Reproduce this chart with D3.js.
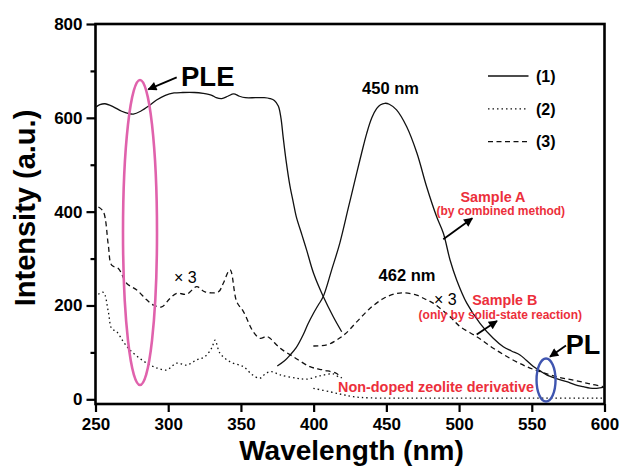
<!DOCTYPE html>
<html>
<head>
<meta charset="utf-8">
<script src="https://cdn.jsdelivr.net/npm/d3@7"></script>
<style>
  body { margin: 0; background: #fff; }
  svg text { font-family: Arial, "Liberation Sans", sans-serif; }
</style>
</head>
<body>
<div id="chart"></div>
<script>
// excitation (PLE) and emission (PL) spectra, wavelength in nm / intensity in a.u.
var ple1W = [250, 253, 256.5, 262, 268, 273, 276, 281, 287, 292, 298, 304, 310, 318, 324, 330, 333, 336.8, 341, 345, 349, 353, 360, 366, 370, 373, 375.7, 377.5, 379, 381, 383.7, 386, 388, 392, 395.2, 400, 406.6, 413.5, 419.3];
var ple1V = [622, 628, 630, 624, 614, 609, 608, 614, 626, 638, 648, 653, 654, 654, 652, 648, 643, 641, 646, 651, 646, 643, 643, 643, 641, 637, 625, 600, 560, 510, 455, 420, 390, 350, 318, 268, 219, 176, 144];

var pl1W = [375, 380, 384, 388, 392.9, 396, 399.8, 403, 406.6, 412.4, 418, 424, 429.6, 433, 436.5, 440, 443.4, 446, 449, 452, 457, 464, 471, 477.7, 484.6, 489.2, 493.8, 498.4, 505.3, 514.4, 523.5, 530.4, 536, 541.9, 546, 551.1, 556, 560.2, 567, 574, 580, 585.4, 590, 594.6, 600];
var pl1V = [71, 82, 95, 110, 138, 160, 183, 200, 219, 276, 333, 410, 482, 525, 567, 600, 620, 628, 631, 629, 617, 581, 525, 453, 389, 354, 297, 254, 205, 162, 130, 112, 103, 94.5, 84, 70, 60, 52, 44, 37.5, 31, 27, 24, 23.5, 26];

var ple2W = [251.9, 255.4, 258.8, 261.1, 264.6, 269.1, 273.7, 280.6, 287.5, 293, 299, 305.8, 312.7, 319.6, 325.3, 330, 332.2, 335.6, 342.5, 351.7, 358, 363.1, 367, 371.1, 377, 388.3, 395.2, 404.4, 413.5, 418.1];
var ple2V = [224, 228, 187, 151, 144, 123, 105, 87, 73, 66, 62.5, 77, 73, 84, 91, 110, 126, 98, 80, 69.5, 52, 45, 55, 59, 52, 45, 43, 50, 54, 45];

var pl2W = [399.8, 411.3, 420, 427.3, 438.8, 470, 500, 550, 600];
var pl2V = [23.5, 16, 10, 5.6, 3, 2.5, 2.5, 2.5, 2.5];

var ple3W = [252, 255.4, 258.8, 261.1, 265.7, 271.5, 278.4, 285.2, 289.8, 295.5, 301.2, 305.8, 312.7, 319.6, 325.3, 334.5, 337.8, 342.5, 347.1, 351.7, 358.5, 363.1, 367.7, 370, 376.9, 386, 397.5, 406.6, 415.8, 419.3];
var ple3V = [410, 400, 329, 286, 279, 247, 233, 212, 201, 197, 215, 226, 224, 240, 229, 229, 247, 276, 208, 187, 144, 130, 134, 130, 109, 91, 69.5, 62.5, 55, 45];

var pl3W = [399.8, 409, 415.9, 421.6, 429.6, 438.8, 448, 455, 461.6, 470.8, 477.7, 482.2, 493.8, 500.7, 512.2, 523.5, 535, 546.5, 555.7, 567.1, 578.5, 590, 599.2];
var pl3V = [113.6, 115.8, 126.4, 139, 165, 194, 215, 224, 227, 222, 212, 205, 176, 155, 133.5, 109, 87.4, 69.5, 59, 48, 41, 33, 27];

var xTicks = [250, 300, 350, 400, 450, 500, 550, 600];
var yTicks = [0, 200, 400, 600, 800];
var yMinor = [100, 300, 500, 700];
var legendLabels = ["(1)", "(2)", "(3)"];

var width = 624, height = 467;
var red = "#ec2f3b";

var svg = d3.select("#chart").append("svg")
    .attr("width", width)
    .attr("height", height);

var x = d3.scaleLinear().domain([250, 600]).range([95.5, 604.5]);
var y = d3.scaleLinear().domain([-10, 800]).range([404, 24]);

var defs = svg.append("defs");
defs.append("marker")
    .attr("id", "head")
    .attr("markerUnits", "userSpaceOnUse")
    .attr("viewBox", "0 0 10 10")
    .attr("refX", 9).attr("refY", 5)
    .attr("markerWidth", 11).attr("markerHeight", 9)
    .attr("orient", "auto")
  .append("path")
    .attr("d", "M0,0L10,5L0,10z")
    .attr("fill", "#000");

// axes
svg.append("g")
    .attr("transform", "translate(95.5,0)")
    .call(d3.axisLeft(y).tickValues(yTicks).tickSize(9).tickPadding(4));
svg.append("g")
    .attr("transform", "translate(95.5,0)")
    .call(d3.axisLeft(y).tickValues(yMinor).tickSize(5).tickFormat(""));
svg.append("g")
    .attr("transform", "translate(0,404)")
    .call(d3.axisBottom(x).tickValues(xTicks).tickSize(8).tickPadding(6));

svg.selectAll(".domain").remove();
svg.selectAll(".tick line").attr("stroke", "#000").attr("stroke-width", 2.2);
svg.selectAll(".tick text")
    .attr("fill", "#000")
    .style("font-size", "17px")
    .style("font-weight", "bold");

svg.append("rect")
    .attr("x", x(250)).attr("y", y(800))
    .attr("width", x(600) - x(250)).attr("height", 404 - y(800))
    .attr("fill", "none")
    .attr("stroke", "#000")
    .attr("stroke-width", 2.6);

// axis titles
svg.append("text")
    .attr("transform", "translate(35,208) rotate(-90)")
    .attr("text-anchor", "middle")
    .style("font-size", "29px").style("font-weight", "bold")
    .text("Intensity (a.u.)");
svg.append("text")
    .attr("x", 351.5).attr("y", 460)
    .attr("text-anchor", "middle")
    .style("font-size", "28px").style("font-weight", "bold")
    .text("Wavelength (nm)");

// curves
var line = d3.line()
    .x(d => x(d[0]))
    .y(d => y(d[1]))
    .curve(d3.curveCatmullRom.alpha(0.5));

var dashes = { solid: null, dotted: "1.5,3", dashed: "5,3.5" };
var series = [
  { w: ple1W, v: ple1V, s: "solid" },
  { w: pl1W, v: pl1V, s: "solid" },
  { w: ple2W, v: ple2V, s: "dotted" },
  { w: pl2W, v: pl2V, s: "dotted" },
  { w: ple3W, v: ple3V, s: "dashed" },
  { w: pl3W, v: pl3V, s: "dashed" }
];

svg.append("g")
  .selectAll("path")
  .data(series)
  .join("path")
    .attr("d", d => line(d3.zip(d.w, d.v)))
    .attr("fill", "none")
    .attr("stroke", "#111")
    .attr("stroke-width", 1.3)
    .attr("stroke-dasharray", d => dashes[d.s]);

// legend
var legendStyles = ["solid", "dotted", "dashed"];
var lg = svg.append("g")
  .selectAll("g")
  .data(legendLabels)
  .join("g")
    .attr("transform", (d, i) => `translate(0,${76 + i * 32.8})`);
lg.append("line")
    .attr("x1", 488).attr("x2", 528.5)
    .attr("stroke", "#111").attr("stroke-width", 1.3)
    .attr("stroke-dasharray", (d, i) => dashes[legendStyles[i]]);
lg.append("text")
    .attr("x", 536).attr("dy", "0.36em")
    .style("font-size", "16px").style("font-weight", "bold")
    .text(d => d);

// annotations
svg.append("ellipse")
    .attr("cx", x(280.6)).attr("cy", y(355.6))
    .attr("rx", 17).attr("ry", 152.5)
    .attr("fill", "none").attr("stroke", "#e062ac").attr("stroke-width", 2.6);
svg.append("ellipse")
    .attr("cx", x(559.8)).attr("cy", y(41.2))
    .attr("rx", 9.5).attr("ry", 21.5)
    .attr("fill", "none").attr("stroke", "#3f55b0").attr("stroke-width", 2.4);

var arrows = [
  [176.7, 77.3, 148.3, 89.3],
  [566, 345.5, 550, 356.7],
  [443.3, 239.3, 472.3, 218.3],
  [476.7, 334.5, 497, 321]
];
svg.append("g")
  .selectAll("line")
  .data(arrows)
  .join("line")
    .attr("x1", d => d[0]).attr("y1", d => d[1])
    .attr("x2", d => d[2]).attr("y2", d => d[3])
    .attr("stroke", "#000").attr("stroke-width", 1.8)
    .attr("marker-end", "url(#head)");

function label(t, px, py, size, opts) {
  opts = opts || {};
  return svg.append("text")
      .attr("x", px).attr("y", py)
      .attr("text-anchor", opts.anchor || "start")
      .attr("fill", opts.color || "#000")
      .style("font-size", size + "px")
      .style("font-weight", opts.normal ? "normal" : "bold")
      .text(t);
}

label("PLE", 181, 86, 27.5);
label("PL", 565.7, 354, 27);
label("450 nm", 390.5, 94, 16.5, { anchor: "middle" });
label("462 nm", 407, 281, 16.5, { anchor: "middle" });
label("\u00d7 3", 174, 283, 16, { normal: true });
label("\u00d7 3", 434, 305, 16, { normal: true });
label("Sample A", 493, 201.7, 14.4, { anchor: "middle", color: red });
label("(by combined method)", 500.8, 214.5, 12, { anchor: "middle", color: red });
label("Sample B", 504.8, 305, 14.3, { anchor: "middle", color: red });
label("(only by solid-state reaction)", 500.3, 318.5, 12, { anchor: "middle", color: red });
label("Non-doped zeolite derivative", 436, 391.7, 14.4, { anchor: "middle", color: red });
</script>
</body>
</html>
